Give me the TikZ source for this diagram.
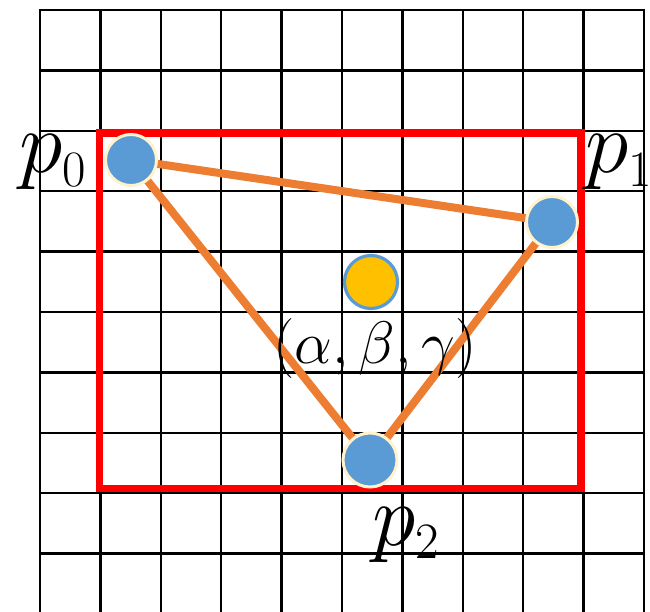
\documentclass[tikz,border=0pt]{standalone}
\usepackage{fix-cm}
\DeclareMathSizes{88}{88}{51}{40}
\DeclareMathSizes{60}{60}{42}{30}
\pgfdeclarelayer{gridlayer}
\pgfdeclarelayer{edgelayer}
\pgfsetlayers{gridlayer,edgelayer,main}
\definecolor{ptblue}{HTML}{5B9BD5}
\definecolor{ptcream}{HTML}{FFF2CC}
\definecolor{edgeorange}{HTML}{ED7D31}
\definecolor{centeryellow}{HTML}{FFC000}
\tikzset{
  gridline/.style={draw=black, line width=2.4pt, line cap=rect},
  bbox/.style={draw=red, line width=7.5pt, line join=miter},
  vertex/.style={circle, fill=ptblue, draw=ptcream, line width=3pt, inner sep=0pt, minimum size=#1},
  vertex/.default=51pt,
  centroid/.style={circle, fill=centeryellow, draw=ptblue, line width=3.2pt, inner sep=0pt, minimum size=53pt},
  edge/.style={draw=edgeorange, line width=8pt},
  biglabel/.style={inner sep=0pt, font=\fontsize{88}{90}\selectfont},
  midlabel/.style={inner sep=0pt, font=\fontsize{60}{62}\selectfont}
}
\begin{document}
\begin{tikzpicture}[x=1pt,y=-1pt]
\useasboundingbox (0,0) rectangle (650,612);
\begin{pgfonlayer}{gridlayer}
\foreach \i in {0,...,10} \draw[gridline] ({40+60.4*\i},10) -- ({40+60.4*\i},614);
\foreach \j in {0,...,9} \draw[gridline] (40,{10+60.4*\j}) -- (644,{10+60.4*\j});
\draw[bbox] (99.5,133) rectangle (581,488.5);
\end{pgfonlayer}
% vertices
\node[vertex] (p0) at (131,160) {};
\node[vertex] (p1) at (552,222) {};
\node[vertex=54pt] (p2) at (370,460) {};
\node[centroid] (c) at (371,282) {};
% labels
\node[biglabel, anchor=base west] (l0) at (19,173) {$p_0$};
\node[biglabel, anchor=base west] (l1) at (585,173) {$p_1$};
\node[biglabel, anchor=base west] (l2) at (372,545) {$p_2$};
\node[midlabel, anchor=base] (lc) at (375,363) {$(\alpha,\beta,\gamma)$};
\begin{pgfonlayer}{edgelayer}
\draw[edge] (p0.center) -- (p1.center);
\draw[edge] (p1.center) -- (p2.center);
\draw[edge] (p2.center) -- (p0.center);
\end{pgfonlayer}
\end{tikzpicture}
\end{document}
